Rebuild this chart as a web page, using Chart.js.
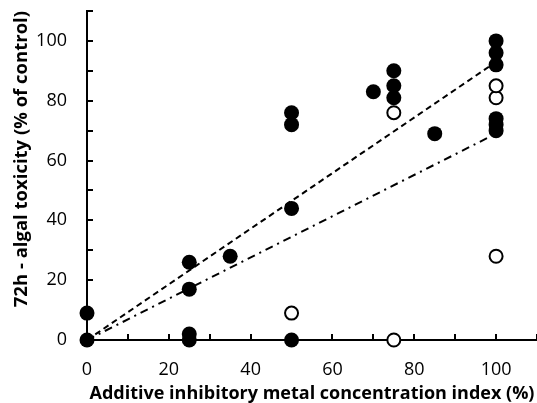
<!DOCTYPE html>
<html><head><meta charset="utf-8">
<script src="https://cdn.jsdelivr.net/npm/chart.js@4/dist/chart.umd.min.js"></script>
<style>html,body{margin:0;padding:0;background:#fff}#wrap{width:537px;height:403px}</style>
</head><body><div id="wrap"><canvas id="c" width="537" height="403"></canvas></div>
<script>
const filledX = [0, 0, 25, 25, 25, 25, 35, 50, 50, 50, 50, 70, 75, 75, 75, 85, 100, 100, 100, 100, 100, 100];
const filledY = [0, 9, 0, 2, 17, 26, 28, 0, 44, 72, 76, 83, 81, 85, 90, 69, 70, 72, 74, 92, 96, 100];
const openX = [50, 75, 75, 100, 100, 100];
const openY = [9, 0, 76, 28, 81, 85];
const dashedLineX = [0, 100];
const dashedLineY = [0, 93];
const dashDotLineX = [0, 100];
const dashDotLineY = [0, 69];
const xTitle = 'Additive inhibitory metal concentration index (%)';
const yTitle = '72h - algal toxicity (% of control)';

const pts = (xs, ys) => xs.map((x, i) => ({x: x, y: ys[i]}));
const FONT = 'Open Sans';

const inwardTicks = {
  id: 'inwardTicks',
  afterDraw(chart) {
    const ctx = chart.ctx, xs = chart.scales.x, ys = chart.scales.y;
    const ca = chart.chartArea;
    ctx.save();
    ctx.strokeStyle = '#000';
    ctx.lineWidth = 2;
    ctx.beginPath();
    xs.ticks.forEach(t => {
      const px = Math.round(xs.getPixelForValue(t.value));
      if (t.value === 0) return;
      ctx.moveTo(px, ca.bottom);
      ctx.lineTo(px, ca.bottom - 6);
    });
    ys.ticks.forEach(t => {
      const py = Math.round(ys.getPixelForValue(t.value));
      if (t.value === 0) return;
      ctx.moveTo(ca.left, py);
      ctx.lineTo(ca.left + 6, py);
    });
    ctx.stroke();
    ctx.restore();
  }
};

new Chart(document.getElementById('c'), {
  type: 'scatter',
  data: {
    datasets: [
      {data: pts(openX, openY), backgroundColor: '#fff', borderColor: '#000', borderWidth: 2, pointRadius: 6.5, pointHoverRadius: 6.5, showLine: false, clip: false},
      {data: pts(filledX, filledY), backgroundColor: '#000', borderColor: '#000', borderWidth: 0, pointRadius: 7.5, pointHoverRadius: 7.5, showLine: false, clip: false},
      {data: pts(dashedLineX, dashedLineY), showLine: true, borderColor: '#000', borderWidth: 2, borderDash: [6, 4], pointRadius: 0, fill: false},
      {data: pts(dashDotLineX, dashDotLineY), showLine: true, borderColor: '#000', borderWidth: 2, borderDash: [8, 5, 2, 5], pointRadius: 0, fill: false}
    ]
  },
  options: {
    responsive: false,
    animation: false,
    devicePixelRatio: 1,
    layout: {autoPadding: false, padding: {top: 11, right: 0, left: 0, bottom: 0}},
    plugins: {legend: {display: false}, tooltip: {enabled: false}},
    scales: {
      x: {
        type: 'linear', min: 0, max: 110,
        ticks: {stepSize: 10, autoSkip: false, maxRotation: 0, padding: 19, color: '#000', font: {family: FONT, size: 18},
          callback: v => (v % 20 === 0 && v <= 100) ? String(v) : ''},
        grid: {display: true, drawOnChartArea: false, drawTicks: false},
        border: {display: true, color: '#000', width: 2},
        title: {display: true, text: xTitle, color: '#000', font: {family: FONT, size: 18, weight: 'bold'}, padding: {top: 0, bottom: -2}},
        afterFit: s => { s.height = 63; s.paddingLeft = 0; s.paddingRight = 0; }
      },
      y: {
        type: 'linear', min: 0, max: 110,
        ticks: {stepSize: 10, autoSkip: false, padding: 20, color: '#000', font: {family: FONT, size: 18},
          callback: v => (v % 20 === 0 && v <= 100) ? String(v) : ''},
        grid: {display: true, drawOnChartArea: false, drawTicks: false},
        border: {display: true, color: '#000', width: 2},
        title: {display: true, text: yTitle, align: 'end', color: '#000', font: {family: FONT, size: 18.5, weight: 'bold'}, padding: {top: 11, bottom: 0}},
        afterFit: s => { s.width = 87; s.paddingTop = 0; s.paddingBottom = 0; }
      }
    }
  },
  plugins: [inwardTicks]
});
</script>
</body></html>
